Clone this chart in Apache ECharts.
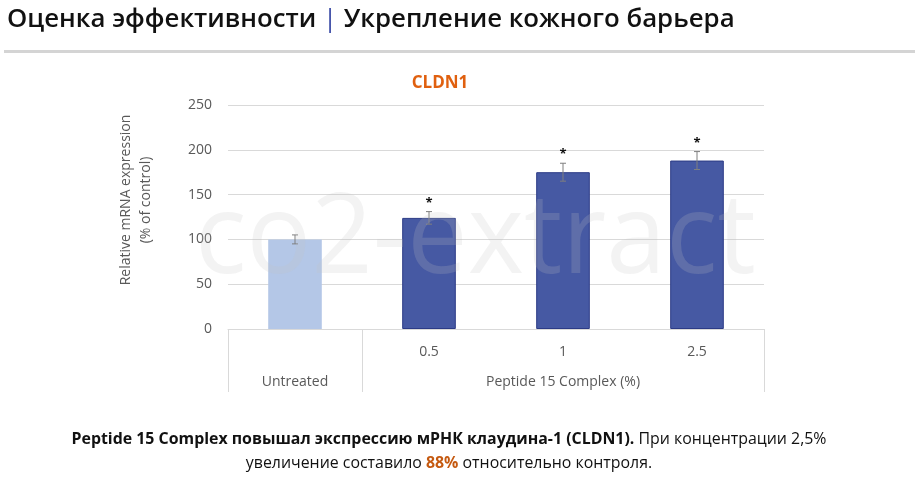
<!DOCTYPE html>
<html><head><meta charset="utf-8">
<script src="https://cdn.jsdelivr.net/npm/echarts@6/dist/echarts.min.js"></script>
<style>html,body{margin:0;padding:0;background:#fff}#c{width:920px;height:479px}</style>
</head><body><div id="c"></div>
<script>
const categories = ['Untreated', '0.5', '1', '2.5'];
const groupLabels = ['Untreated', 'Peptide 15 Complex (%)'];
const values = [100, 124, 175, 188];
const errors = [5, 7, 10, 10];
const significance = ['', '*', '*', '*'];
const yTicks = [0, 50, 100, 150, 200, 250];

const chart = echarts.init(document.getElementById('c'), null, {renderer: 'canvas'});
const FONT = '"Open Sans", "Noto Sans", sans-serif';
const barColors = ['#b4c7e7', '#4659a3', '#4659a3', '#4659a3'];

const option = {
  animation: false,
  backgroundColor: '#fff',
  title: [
    {
      left: 2, top: 2,
      text: '{a|Оценка эффективности }{b||}{a| Укрепление кожного барьера}',
      textStyle: {
        rich: {
          a: {fontFamily: FONT, fontSize: 25.8, fontWeight: 600, color: '#111'},
          b: {fontFamily: FONT, fontSize: 25.8, fontWeight: 400, color: '#3f4fa8'}
        }
      }
    },
    {
      left: 435, top: 70, textAlign: 'center',
      text: 'CLDN1',
      textStyle: {fontFamily: FONT, fontSize: 17, fontWeight: 'bold', color: '#e0600f'}
    },
    {
      left: 444, top: 422, textAlign: 'center',
      text: '{b|Peptide 15 Complex повышал экспрессию мРНК клаудина-1 (CLDN1).}{n| При концентрации 2,5%}\n{n|увеличение составило }{o|88%}{n| относительно контроля.}',
      textStyle: {
        fontWeight: 'normal',
        rich: {
          b: {fontFamily: FONT, fontSize: 15.9, fontWeight: 'bold', color: '#111', lineHeight: 24},
          n: {fontFamily: FONT, fontSize: 15.9, fontWeight: 'normal', color: '#111', lineHeight: 24},
          o: {fontFamily: FONT, fontSize: 15.9, fontWeight: 'bold', color: '#c55a11', lineHeight: 24}
        }
      }
    }
  ],
  graphic: [
    {type: 'rect', shape: {x: 4, y: 50, width: 911, height: 3}, style: {fill: '#d4d4d4'}, z: 1},
    {
      type: 'text', x: 195, y: 185, scaleX: 0.96, z: 100, silent: true,
      style: {text: 'co2-extract', font: '400 112px "Open Sans", sans-serif', fill: 'rgba(195,195,195,0.2)', textVerticalAlign: 'top'}
    }
  ],
  grid: {left: 228, right: 156, top: 105, bottom: 150},
  xAxis: [
    {
      type: 'category', data: categories,
      axisLine: {show: true, lineStyle: {color: '#d9d9d9', width: 1}},
      axisTick: {show: true, length: 63, lineStyle: {color: '#d9d9d9'},
        interval: function (i) { return i === 0 || i === 1; }},
      axisLabel: {margin: 16, fontFamily: FONT, fontSize: 14, color: '#595959',
        formatter: function (v, i) { return i === 0 ? '' : v; }},
      splitLine: {show: false}
    },
    {
      type: 'value', position: 'bottom', offset: 30, min: 0, max: 4, interval: 0.5,
      axisLine: {show: false}, axisTick: {show: false}, splitLine: {show: false},
      axisLabel: {margin: 16, fontFamily: FONT, fontSize: 14, color: '#595959', showMinLabel: true, showMaxLabel: true,
        formatter: function (v) { return v === 0.5 ? groupLabels[0] : (v === 2.5 ? groupLabels[1] : ''); }}
    }
  ],
  yAxis: {
    type: 'value', min: 0, max: 250, interval: 50,
    name: 'Relative mRNA expression\n(% of control)', nameLocation: 'middle', nameGap: 72,
    nameTextStyle: {fontFamily: FONT, fontSize: 14, color: '#595959', lineHeight: 20, padding: [0, 0, 0, 34]},
    axisLine: {show: false}, axisTick: {show: false},
    axisLabel: {margin: 16, fontFamily: FONT, fontSize: 14, color: '#595959',
      formatter: function (v) { return yTicks.indexOf(v) >= 0 ? String(v) : ''; }},
    splitLine: {lineStyle: {color: '#d9d9d9'}}
  },
  series: [
    {
      type: 'bar', xAxisIndex: 0, barWidth: '40%',
      data: values.map(function (v, i) {
        return {value: v, itemStyle: {color: barColors[i], borderColor: i === 0 ? barColors[i] : '#2c3b86', borderWidth: i === 0 ? 0 : 1}};
      }),
      z: 2
    },
    {
      type: 'custom', xAxisIndex: 0, z: 3,
      data: values.map(function (v, i) { return [i, v - errors[i], v + errors[i], significance[i]]; }),
      renderItem: function (params, api) {
        const x = api.coord([api.value(0), 0])[0];
        const lo = api.coord([api.value(0), api.value(1)])[1];
        const hi = api.coord([api.value(0), api.value(2)])[1];
        const cap = 3;
        const st = {stroke: '#7f7f7f', lineWidth: 1};
        const children = [
          {type: 'line', shape: {x1: x, y1: lo, x2: x, y2: hi}, style: st},
          {type: 'line', shape: {x1: x - cap, y1: lo, x2: x + cap, y2: lo}, style: st},
          {type: 'line', shape: {x1: x - cap, y1: hi, x2: x + cap, y2: hi}, style: st}
        ];
        const s = significance[params.dataIndex];
        if (s) {
          children.push({type: 'text', x: x, y: hi - 2,
            style: {text: s, font: 'bold 13px "Open Sans", sans-serif', fill: '#111', textAlign: 'center', textVerticalAlign: 'bottom'}});
        }
        return {type: 'group', children: children};
      }
    }
  ]
};
chart.setOption(option);
</script>
</body></html>
